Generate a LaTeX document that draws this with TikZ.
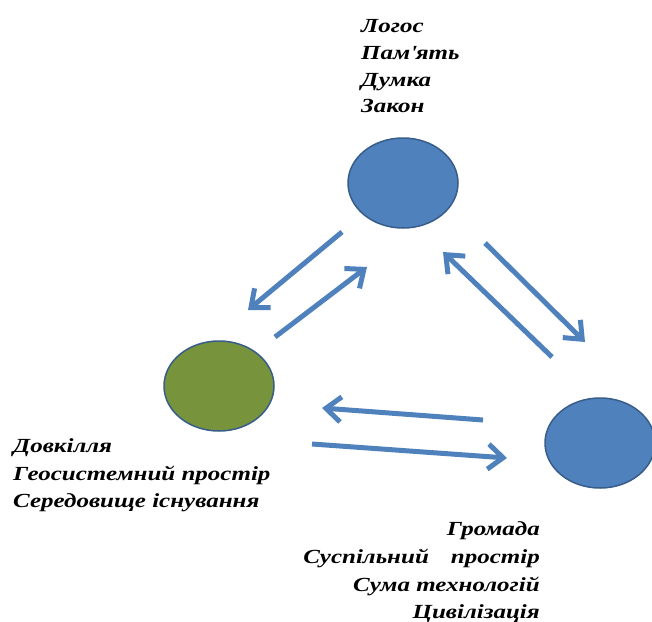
\documentclass[tikz,border=0pt]{standalone}
\usepackage{fontspec}
\setmainfont{Liberation Serif}[FakeStretch=1.25]
\usetikzlibrary{shapes.geometric,arrows.meta}
\definecolor{accblue}{HTML}{4F81BD}
\definecolor{accborder}{HTML}{385D8A}
\definecolor{accgreen}{HTML}{77933C}
\tikzset{
  circ/.style={ellipse, draw=accborder, line width=1.5pt, minimum width=110pt, minimum height=90pt, inner sep=0pt},
  flow/.style={draw=accblue, line width=5pt, -{Straight Barb[length=15pt, width=25pt]}},
  lbl/.style={inner sep=0pt, font=\fontsize{20}{27}\selectfont\bfseries\itshape},
}
\begin{document}
\begin{tikzpicture}[x=1pt,y=-1pt]
\useasboundingbox (0,0) rectangle (652,621);
% ellipses
\node[circ, fill=accblue] (top) at (403,183) {};
\node[circ, fill=accgreen] (left) at (219,386) {};
\node[circ, fill=accblue] (right) at (600,443) {};
% arrow end points
\coordinate (a1s) at (342,232); \coordinate (a1e) at (248,310);
\coordinate (a2s) at (275,337); \coordinate (a2e) at (367,267);
\coordinate (a3s) at (552,357); \coordinate (a3e) at (443,252);
\coordinate (a4s) at (485,243); \coordinate (a4e) at (585,342);
\coordinate (a5s) at (483,420); \coordinate (a5e) at (322,408);
\coordinate (a6s) at (312,444); \coordinate (a6e) at (507,458);
\draw[flow] (a1s) -- (a1e);
\draw[flow] (a2s) -- (a2e);
\draw[flow] (a3s) -- (a3e);
\draw[flow] (a4s) -- (a4e);
\draw[flow] (a5s) -- (a5e);
\draw[flow] (a6s) -- (a6e);
% top labels
\node[lbl, anchor=base west] (t1) at (361,32) {Логос};
\node[lbl, anchor=base west] (t2) at (361,59) {Пам\textquotesingle ять};
\node[lbl, anchor=base west] (t3) at (361,86) {Думка};
\node[lbl, anchor=base west] (t4) at (361,112) {Закон};
% left labels
\node[lbl, anchor=base west] (l1) at (13,452) {Довкілля};
\node[lbl, anchor=base west] (l2) at (13,480) {Геосистемний простір};
\node[lbl, anchor=base west] (l3) at (13,507) {Середовище існування};
% right labels
\node[lbl, anchor=base east] (r1) at (540,535) {Громада};
\node[lbl, anchor=base east] (r2) at (540,563) {Суспільний\hspace{22pt}простір};
\node[lbl, anchor=base east] (r3) at (540,591) {Сума технологій};
\node[lbl, anchor=base east] (r4) at (540,618) {Цивілізація};
\end{tikzpicture}
\end{document}
